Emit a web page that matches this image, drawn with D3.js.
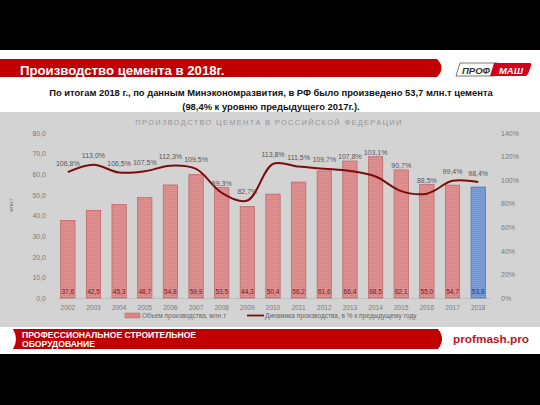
<!DOCTYPE html>
<html><head><meta charset="utf-8">
<script src="https://cdn.jsdelivr.net/npm/d3@7"></script>
<style>
html,body{margin:0;padding:0;background:#000;}
svg{display:block;font-family:"Liberation Sans",Arial,sans-serif;}
</style></head>
<body>
<svg id="c" width="540" height="405"></svg>
<script>
const years = ["2002","2003","2004","2005","2006","2007","2008","2009","2010","2011","2012","2013","2014","2015","2016","2017","2018"];
const volume = [37.6,42.5,45.3,48.7,54.8,59.9,53.5,44.3,50.4,56.2,61.6,66.4,68.5,62.1,55.0,54.7,53.8];
const growth = [106.8,113.0,106.5,107.5,112.3,109.5,89.3,82.7,113.8,111.5,109.7,107.8,103.1,90.7,88.5,99.4,98.4];
const leftTicks = [0,10,20,30,40,50,60,70,80];
const rightTicks = [0,20,40,60,80,100,120,140];

const svg = d3.select("#c");
// slide background
svg.append("rect").attr("x",0).attr("y",50).attr("width",540).attr("height",304).attr("fill","#fff");
// title bar
svg.append("path").attr("d","M0,59 L437,59 Q446,68 437,77 L0,77 Z").attr("fill","#c00000");
svg.append("text").attr("x",20).attr("y",75).attr("fill","#fff").attr("font-size",13.2).attr("font-weight","bold").text("Производство цемента в 2018г.");
// logo
const lg = svg.append("g");
lg.append("path").attr("d","M460,63 L498,63 L494,76 L456,76 Z").attr("fill","#fff").attr("stroke","#555").attr("stroke-width",0.8);
lg.append("path").attr("d","M494,63 L530,63 Q532,63 531,66 L528,74 Q527,76 525,76 L490,76 Z").attr("fill","#d0021b");
lg.append("text").attr("x",476).attr("y",73.5).attr("text-anchor","middle").attr("font-size",9.5).attr("font-weight","bold").attr("font-style","italic").attr("fill","#333").text("ПРОФ");
lg.append("text").attr("x",511).attr("y",73.5).attr("text-anchor","middle").attr("font-size",9.5).attr("font-weight","bold").attr("font-style","italic").attr("fill","#fff").text("МАШ");
// subtitle
svg.append("text").attr("x",271).attr("y",95.5).attr("text-anchor","middle").attr("font-size",9.4).attr("font-weight","bold").attr("fill","#111").text("По итогам 2018 г., по данным Минэкономразвития, в РФ было произведено 53,7 млн.т цемента");
svg.append("text").attr("x",271).attr("y",109.5).attr("text-anchor","middle").attr("font-size",9.4).attr("font-weight","bold").attr("fill","#111").text("(98,4% к уровню предыдущего 2017г.).");
// chart panel
svg.append("rect").attr("x",0).attr("y",112).attr("width",540).attr("height",215).attr("fill","#d3d3d3");
svg.append("text").attr("x",269).attr("y",125).attr("text-anchor","middle").attr("font-size",7.5).attr("letter-spacing",1.3).attr("fill","#959595").text("ПРОИЗВОДСТВО ЦЕМЕНТА В РОССИЙСКОЙ ФЕДЕРАЦИИ");

const x = d3.scaleBand().domain(years).range([55,491]).paddingInner(0.44).paddingOuter(0.22);
const yL = d3.scaleLinear().domain([0,80]).range([298,133]);
const yR = d3.scaleLinear().domain([0,140]).range([298,133]);
const cx = d => x(d)+x.bandwidth()/2;

// left axis
const gl = svg.append("g").attr("transform","translate(49,0)")
  .call(d3.axisLeft(yL).tickValues(leftTicks).tickSize(0).tickFormat(d=>d3.format(".1f")(d).replace(".",",")));
gl.select(".domain").remove();
gl.selectAll("text").attr("fill","#7a7a7a").attr("font-size",7).attr("dy","0.32em");
// right axis
const gr = svg.append("g").attr("transform","translate(498,0)")
  .call(d3.axisRight(yR).tickValues(rightTicks).tickSize(0).tickFormat(d=>d+"%"));
gr.select(".domain").remove();
gr.selectAll("text").attr("fill","#7a7a7a").attr("font-size",7).attr("dy","0.32em");
// y label
svg.append("text").attr("transform","translate(13,205) rotate(-90)").attr("text-anchor","middle").attr("font-size",5).attr("fill","#666").text("млн.т");
// baseline
svg.append("line").attr("x1",58).attr("x2",490).attr("y1",298.5).attr("y2",298.5).attr("stroke","#bdbdbd");

// stripe patterns
const defs = svg.append("defs");
function stripe(id,c1,c2){
  const p = defs.append("pattern").attr("id",id).attr("width",4).attr("height",2).attr("patternUnits","userSpaceOnUse");
  p.append("rect").attr("width",4).attr("height",2).attr("fill",c1);
  p.append("rect").attr("width",4).attr("height",0.6).attr("fill",c2);
}
stripe("pr","#dc8585","#e49a9a");
stripe("pb","#6f93d3","#84a5de");

const last = years.length-1;
svg.append("g").selectAll("rect").data(years).join("rect")
  .attr("x",d=>x(d)).attr("width",x.bandwidth())
  .attr("y",(d,i)=>yL(volume[i])).attr("height",(d,i)=>yL(0)-yL(volume[i]))
  .attr("fill",(d,i)=>i===last?"url(#pb)":"url(#pr)")
  .attr("stroke",(d,i)=>i===last?"#4a6fb0":"#c06060").attr("stroke-width",0.7);

svg.append("g").selectAll("text").data(years).join("text")
  .attr("x",cx).attr("y",294).attr("text-anchor","middle")
  .attr("font-size",6.5).attr("fill",(d,i)=>i===last?"#223a70":"#6a2020")
  .text((d,i)=>d3.format(".1f")(volume[i]).replace(".",","));

// x labels
svg.append("g").selectAll("text").data(years).join("text")
  .attr("x",cx).attr("y",310).attr("text-anchor","middle")
  .attr("font-size",6.5).attr("fill","#7a7a7a").text(d=>d);

// line
const line = d3.line().x((d,i)=>cx(years[i])).y(d=>yR(d)).curve(d3.curveCatmullRom.alpha(0.5));
svg.append("path").datum(growth).attr("d",line).attr("fill","none").attr("stroke","#7a0c0c").attr("stroke-width",2);

svg.append("g").selectAll("text").data(growth).join("text")
  .attr("x",(d,i)=>cx(years[i])).attr("y",(d,i)=>Math.min(yR(d)-6.5, yL(volume[i])-2))
  .attr("text-anchor","middle")
  .attr("font-size",7).attr("fill","#555").text(d=>d3.format(".1f")(d).replace(".",",")+"%");

// legend
svg.append("rect").attr("x",125).attr("y",313).attr("width",15).attr("height",5).attr("fill","#dc8585").attr("stroke","#c06060").attr("stroke-width",0.5);
svg.append("text").attr("x",142).attr("y",318).attr("font-size",6.5).attr("fill","#666").text("Объем производства, млн.т");
svg.append("line").attr("x1",247).attr("x2",264).attr("y1",315.5).attr("y2",315.5).attr("stroke","#7a0c0c").attr("stroke-width",1.8);
svg.append("text").attr("x",265).attr("y",318).attr("font-size",6.5).attr("fill","#666").text("Динамика производства, в % к предыдущему году");

// footer
svg.append("path").attr("d","M13,329 L438,329 Q446,339 438,349 L13,349 Q19,339 13,329 Z").attr("fill","#c00000");
svg.append("text").attr("x",22).attr("y",338).attr("fill","#fff").attr("font-size",8.6).attr("font-weight","bold").text("ПРОФЕССИОНАЛЬНОЕ СТРОИТЕЛЬНОЕ");
svg.append("text").attr("x",22).attr("y",347).attr("fill","#fff").attr("font-size",8.6).attr("font-weight","bold").text("ОБОРУДОВАНИЕ");
svg.append("text").attr("x",529).attr("y",343).attr("text-anchor","end").attr("fill","#c0161e").attr("font-size",11.8).attr("font-weight","bold").text("profmash.pro");
</script>
</body></html>
